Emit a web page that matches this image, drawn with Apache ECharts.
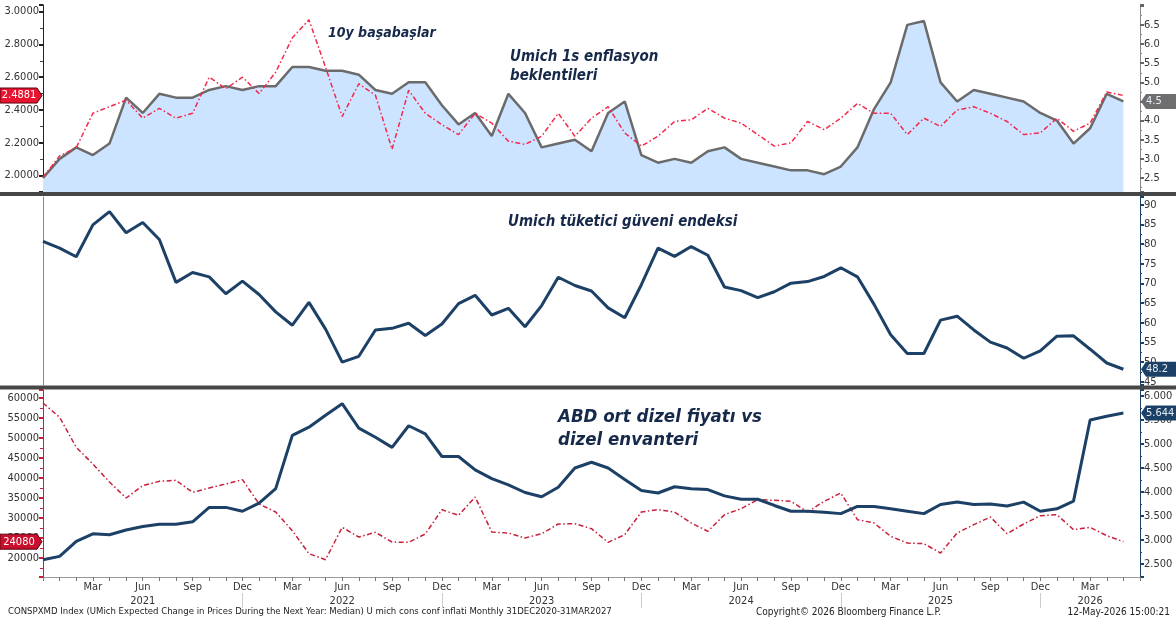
<!DOCTYPE html>
<html><head><meta charset="utf-8">
<script src="https://cdn.jsdelivr.net/npm/echarts@6/dist/echarts.min.js"></script>
<style>html,body{margin:0;padding:0;background:#fff}#c{width:1176px;height:621px}</style>
</head><body><div id="c"></div>
<script>
const categories = [
 '2020-12',
 '2021-01','2021-02','2021-03','2021-04','2021-05','2021-06','2021-07','2021-08','2021-09','2021-10','2021-11','2021-12',
 '2022-01','2022-02','2022-03','2022-04','2022-05','2022-06','2022-07','2022-08','2022-09','2022-10','2022-11','2022-12',
 '2023-01','2023-02','2023-03','2023-04','2023-05','2023-06','2023-07','2023-08','2023-09','2023-10','2023-11','2023-12',
 '2024-01','2024-02','2024-03','2024-04','2024-05','2024-06','2024-07','2024-08','2024-09','2024-10','2024-11','2024-12',
 '2025-01','2025-02','2025-03','2025-04','2025-05','2025-06','2025-07','2025-08','2025-09','2025-10','2025-11','2025-12',
 '2026-01','2026-02','2026-03','2026-04','2026-05','2026-06'
];
const monthNames = ['Jan','Feb','Mar','Apr','May','Jun','Jul','Aug','Sep','Oct','Nov','Dec'];
const quarterLabels = ['Mar','Jun','Sep','Dec'];
const yearLabelAt = {'2021':'2021-06','2022':'2022-06','2023':'2023-06','2024':'2024-06','2025':'2025-06','2026':'2026-03'};

// Top panel: UMich 1y inflation expectations (right axis), 10y breakeven (left axis)
const umich1y = [2.5,
 3.0,3.3,3.1,3.4,4.6,4.2,4.7,4.6,4.6,4.8,4.9,4.8,
 4.9,4.9,5.4,5.4,5.3,5.3,5.2,4.8,4.7,5.0,5.0,4.4,
 3.9,4.2,3.6,4.7,4.2,3.3,3.4,3.5,3.2,4.2,4.5,3.1,
 2.9,3.0,2.9,3.2,3.3,3.0,2.9,2.8,2.7,2.7,2.6,2.8,
 3.3,4.3,5.0,6.5,6.6,5.0,4.5,4.8,4.7,4.6,4.5,4.2,
 4.0,3.4,3.8,4.7,4.5];
const breakeven10y = [1.99,
 2.12,2.17,2.38,2.42,2.46,2.35,2.41,2.35,2.38,2.60,2.53,2.60,
 2.50,2.63,2.84,2.95,2.66,2.36,2.56,2.49,2.16,2.52,2.38,2.31,
 2.25,2.38,2.32,2.21,2.19,2.24,2.38,2.24,2.35,2.42,2.26,2.18,
 2.24,2.33,2.34,2.41,2.35,2.32,2.25,2.18,2.20,2.33,2.28,2.35,
 2.44,2.38,2.38,2.25,2.35,2.30,2.40,2.42,2.38,2.33,2.25,2.26,
 2.35,2.27,2.32,2.51,2.4881];
// Middle panel: UMich consumer sentiment
const sentiment = [80.7,
 79.0,76.8,84.9,88.3,82.9,85.5,81.2,70.3,72.8,71.7,67.4,70.6,
 67.2,62.8,59.4,65.2,58.4,50.0,51.5,58.2,58.6,59.9,56.8,59.7,
 64.9,67.0,62.0,63.7,59.0,64.4,71.6,69.5,68.1,63.8,61.3,69.7,
 79.0,76.9,79.4,77.2,69.1,68.2,66.4,67.9,70.1,70.5,71.8,74.0,
 71.7,64.7,57.0,52.2,52.2,60.7,61.7,58.2,55.1,53.6,51.0,52.9,
 56.6,56.7,53.3,49.8,48.2];
// Bottom panel: US avg diesel price (right axis), diesel inventory (left axis)
const dieselPrice = [2.59,
 2.66,2.97,3.13,3.11,3.21,3.28,3.33,3.33,3.38,3.68,3.68,3.60,
 3.77,4.07,5.18,5.35,5.60,5.84,5.33,5.14,4.93,5.38,5.21,4.74,
 4.74,4.46,4.28,4.15,3.99,3.90,4.10,4.50,4.62,4.50,4.26,4.03,
 3.98,4.11,4.07,4.05,3.92,3.85,3.85,3.72,3.60,3.60,3.58,3.55,
 3.70,3.70,3.65,3.60,3.55,3.74,3.79,3.74,3.75,3.71,3.79,3.60,
 3.65,3.81,5.50,5.58,5.644];
const dieselInventory = [58750,
 55170,47670,43500,39000,35000,38080,39170,39420,36420,37500,38500,39580,
 33500,31500,26830,21080,19580,27670,25250,26420,24000,23920,26000,32080,
 30670,35250,26500,26250,25000,26080,28500,28580,27330,23920,25830,31500,
 32080,31500,28750,26670,30830,32330,34580,34420,34170,31500,34170,36250,
 29580,28750,25420,23750,23580,21250,26250,28330,30250,26080,28500,30580,
 30830,27080,27670,25580,24080];

const FONT = '"DejaVu Sans Condensed","DejaVu Sans",sans-serif';
const NAVY = '#1c4066', GRAY = '#6b6b6b', RED1 = '#f3284a', RED2 = '#c8203a';
const L = 43, R = 36;

function mult(v, step){ const q = v/step; return Math.abs(q - Math.round(q)) < 1e-6; }
function monthOf(v){ return monthNames[parseInt(v.slice(5),10)-1]; }

const axLabel = (fmt, extra) => Object.assign({color:'#333', fontSize:11, fontFamily:FONT, margin:4, formatter:fmt}, extra||{});
const hiddenX = (g) => ({type:'category', gridIndex:g, data:categories, boundaryGap:false,
  axisLine:{show:false}, axisTick:{show:false}, axisLabel:{show:false}, splitLine:{show:false}});

const chart = echarts.init(document.getElementById('c'), null, {renderer:'canvas'});
const option = {
  animation:false,
  backgroundColor:'#fff',
  grid:[
    {left:L, right:R, top:5, height:187},
    {left:L, right:R, top:197, height:188},
    {left:L, right:R, top:390, height:187}
  ],
  xAxis:[
    hiddenX(0), hiddenX(1),
    {type:'category', gridIndex:2, data:categories, boundaryGap:false,
     axisLine:{lineStyle:{color:'#999'}},
     axisTick:{show:true, interval:0, length:4, lineStyle:{color:'#777'}},
     axisLabel:{interval:(i,v)=> i>0 && i<categories.length-1 && quarterLabels.indexOf(monthOf(v))>=0,
                formatter:v=>monthOf(v), color:'#333', fontSize:11, fontFamily:FONT, margin:5},
     splitLine:{show:false}},
    {type:'category', gridIndex:2, data:categories, boundaryGap:false, position:'bottom', offset:16,
     axisLine:{show:false},
     axisTick:{show:true, interval:(i,v)=> monthOf(v)==='Dec' && i>0, length:15, lineStyle:{color:'#ccc'}},
     axisLabel:{interval:(i,v)=> Object.values(yearLabelAt).indexOf(v)>=0,
                formatter:v=>{ for (const y in yearLabelAt) if (yearLabelAt[y]===v) return y; return ''; },
                color:'#333', fontSize:11, fontFamily:FONT, margin:3},
     splitLine:{show:false}}
  ],
  yAxis:[
    {type:'value', gridIndex:0, position:'left', min:1.9, max:3.04, splitNumber:6,
     axisLine:{show:true, lineStyle:{color:'#222'}}, axisTick:{show:true, length:4, lineStyle:{color:'#222', width:2}},
     minorTick:{show:true, splitNumber:2, length:3, lineStyle:{color:'#444'}},
     axisLabel:axLabel(v=> mult(v,0.2)? v.toFixed(4):''), splitLine:{show:false}},
    {type:'value', gridIndex:0, position:'right', min:2.135, max:7.02, splitNumber:10,
     axisLine:{show:true, lineStyle:{color:'#888'}}, axisTick:{show:true, length:4, lineStyle:{color:'#666', width:2}},
     minorTick:{show:true, splitNumber:2, length:2, lineStyle:{color:'#888'}},
     axisLabel:axLabel(v=> (mult(v,0.5) && v<6.9)? v.toFixed(1):''), splitLine:{show:false}},
    {type:'value', gridIndex:1, position:'left', min:44.2, max:92,
     axisLine:{show:true, lineStyle:{color:'#888'}}, axisTick:{show:false}, axisLabel:{show:false}, splitLine:{show:false}},
    {type:'value', gridIndex:1, position:'right', min:44.2, max:92, splitNumber:10,
     axisLine:{show:true, lineStyle:{color:NAVY}}, axisTick:{show:true, length:4, lineStyle:{color:NAVY, width:2}},
     minorTick:{show:true, splitNumber:2, length:2, lineStyle:{color:NAVY}},
     axisLabel:axLabel(v=> mult(v,5)? String(Math.round(v)):''), splitLine:{show:false}},
    {type:'value', gridIndex:2, position:'left', min:15250, max:62000, splitNumber:10,
     axisLine:{show:true, lineStyle:{color:RED2}}, axisTick:{show:true, length:4, lineStyle:{color:RED2, width:2}},
     minorTick:{show:true, splitNumber:2, length:3, lineStyle:{color:RED2}},
     axisLabel:axLabel(v=> mult(v,5000)? String(Math.round(v)):''), splitLine:{show:false}},
    {type:'value', gridIndex:2, position:'right', min:2.23, max:6.125, splitNumber:8,
     axisLine:{show:true, lineStyle:{color:NAVY}}, axisTick:{show:true, length:4, lineStyle:{color:NAVY, width:2}},
     minorTick:{show:true, splitNumber:2, length:2, lineStyle:{color:NAVY}},
     axisLabel:axLabel(v=> mult(v,0.5)? v.toFixed(3):''), splitLine:{show:false}}
  ],
  series:[
    {name:'Umich 1y', type:'line', xAxisIndex:0, yAxisIndex:1, data:umich1y, symbol:'none',
     lineStyle:{color:GRAY, width:2.5}, itemStyle:{color:GRAY},
     areaStyle:{color:'#cce4ff', opacity:1, origin:'start'}, z:2},
    {name:'10y BE', type:'line', xAxisIndex:0, yAxisIndex:0, data:breakeven10y, symbol:'none',
     lineStyle:{color:RED1, width:1.5, type:[5,2.5,1.5,2.5]}, itemStyle:{color:RED1}, z:3},
    {name:'Sentiment', type:'line', xAxisIndex:1, yAxisIndex:3, data:sentiment, symbol:'none',
     lineStyle:{color:NAVY, width:3}, itemStyle:{color:NAVY}},
    {name:'Inventory', type:'line', xAxisIndex:2, yAxisIndex:4, data:dieselInventory, symbol:'none',
     lineStyle:{color:RED2, width:1.5, type:[5,2.5,1.5,2.5]}, itemStyle:{color:RED2}, z:2},
    {name:'Diesel', type:'line', xAxisIndex:2, yAxisIndex:5, data:dieselPrice, symbol:'none',
     lineStyle:{color:NAVY, width:3}, itemStyle:{color:NAVY}, z:3}
  ]
};
chart.setOption(option);

function lastOf(a){ return a[a.length-1]; }
function leftTag(yAxisIndex, value, text, bg){
  const y = chart.convertToPixel({yAxisIndex:yAxisIndex}, value);
  return [
    {type:'polygon', z:200, zlevel:1, shape:{points:[[0,y-7.5],[37,y-7.5],[42,y],[37,y+7.5],[0,y+7.5]]},
     style:{fill:bg, stroke:'#5a0010', lineWidth:1}},
    {type:'text', z:201, zlevel:1, style:{text:text, x:19, y:y, align:'center', verticalAlign:'middle',
     fill:'#fff', font:'11px '+FONT}}
  ];
}
function rightTag(yAxisIndex, value, text, bg){
  const y = chart.convertToPixel({yAxisIndex:yAxisIndex}, value);
  return [
    {type:'polygon', z:200, zlevel:1, shape:{points:[[1141,y],[1146,y-7.5],[1176,y-7.5],[1176,y+7.5],[1146,y+7.5]]},
     style:{fill:bg}},
    {type:'text', z:201, zlevel:1, style:{text:text, x:1146, y:y, align:'left', verticalAlign:'middle',
     fill:'#e8eef5', font:'11px '+FONT}}
  ];
}
const titleFont = (s)=> 'italic bold '+s+'px '+FONT;
const TITLE = '#17294a';
chart.setOption({graphic:[
  {type:'rect', z:50, shape:{x:0, y:192, width:1176, height:4}, style:{fill:'#474747'}},
  {type:'rect', z:50, shape:{x:0, y:385.5, width:1176, height:4}, style:{fill:'#474747'}},
  {type:'text', z:60, style:{text:'10y başabaşlar', x:328, y:33, verticalAlign:'middle', fill:TITLE, font:titleFont(14)}},
  {type:'text', z:60, style:{text:'Umich 1s enflasyon', x:510, y:57, verticalAlign:'middle', fill:TITLE, font:titleFont(15)}},
  {type:'text', z:60, style:{text:'beklentileri', x:510, y:76, verticalAlign:'middle', fill:TITLE, font:titleFont(15)}},
  {type:'text', z:60, style:{text:'Umich tüketici güveni endeksi', x:508, y:222, verticalAlign:'middle', fill:TITLE, font:titleFont(15)}},
  {type:'text', z:60, style:{text:'ABD ort dizel fiyatı vs', x:558, y:417, verticalAlign:'middle', fill:TITLE, font:titleFont(18.5)}},
  {type:'text', z:60, style:{text:'dizel envanteri', x:558, y:440, verticalAlign:'middle', fill:TITLE, font:titleFont(18.5)}},
  {type:'text', z:60, style:{text:'CONSPXMD Index (UMich Expected Change in Prices During the Next Year: Median) U mich cons conf inflati Monthly 31DEC2020-31MAR2027',
     x:8, y:612, verticalAlign:'middle', fill:'#222', font:'9.5px '+FONT}},
  {type:'text', z:60, style:{text:'Copyright© 2026 Bloomberg Finance L.P.', x:756, y:612, verticalAlign:'middle', fill:'#222', font:'10px '+FONT}},
  {type:'text', z:60, style:{text:'12-May-2026 15:00:21', x:1170, y:612, align:'right', verticalAlign:'middle', fill:'#222', font:'10px '+FONT}}
].concat(
  leftTag(0, lastOf(breakeven10y), lastOf(breakeven10y).toFixed(4), '#e8132f'),
  rightTag(1, lastOf(umich1y), lastOf(umich1y).toFixed(1), '#6e6e6e'),
  rightTag(3, lastOf(sentiment), lastOf(sentiment).toFixed(1), NAVY),
  leftTag(4, lastOf(dieselInventory), String(lastOf(dieselInventory)), '#c8102e'),
  rightTag(5, lastOf(dieselPrice), lastOf(dieselPrice).toFixed(3), NAVY)
)});
</script></body></html>
